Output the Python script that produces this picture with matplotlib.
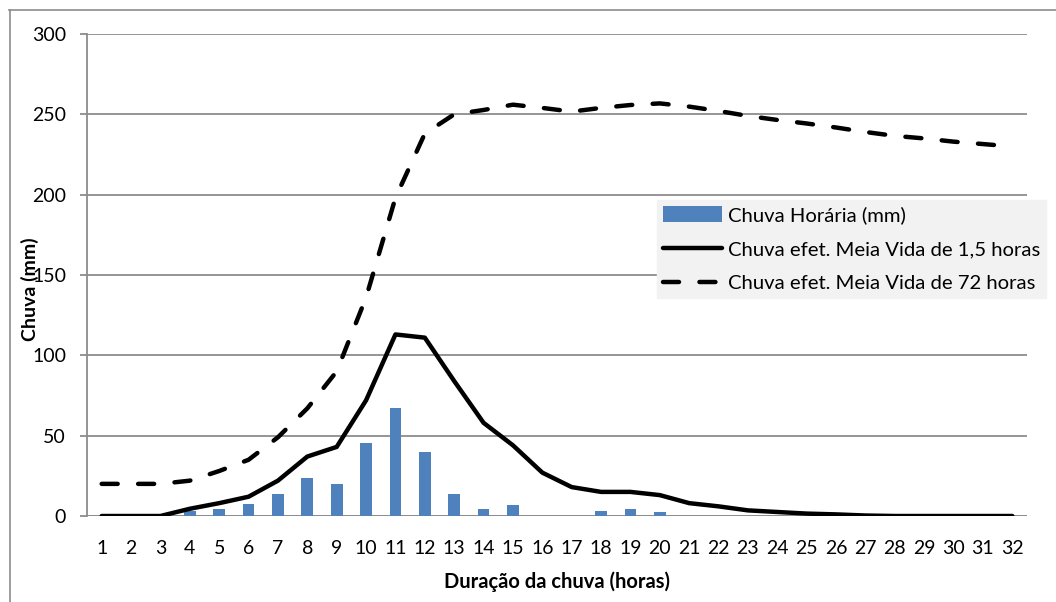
import matplotlib
matplotlib.use("Agg")
import matplotlib.pyplot as plt
from matplotlib.lines import Line2D

plt.rcParams['font.family'] = ['Lato', 'DejaVu Sans']

# Hourly rainfall and effective rainfall for two half-lives
horas = list(range(1, 33))
chuva_horaria = [0, 0, 0, 3, 4.5, 7.5, 14, 23.5, 20, 45.5, 67.5, 40, 14, 4.5, 6.7,
                 0, 0, 3.3, 4.5, 2.3, 0, 0, 0, 0, 0, 0, 0, 0, 0, 0, 0, 0]
meia_vida_1_5h = [0, 0, 0, 4.5, 8, 12, 22, 37, 43, 72, 113, 111, 84, 58, 44,
                  27, 18, 15, 15, 13, 8, 6, 3.5, 2.5, 1.5, 1, 0.3, 0, 0, 0, 0, 0]
meia_vida_72h = [20, 20, 20, 22, 28, 35, 49, 67, 90, 136, 198, 238, 250, 252.7, 256,
                 254, 251.7, 254, 255.8, 256.8, 254.8, 252.1, 249, 246.5, 244.3,
                 241.8, 239, 236.6, 235, 233, 231.5, 230]
y_ticks = [0, 50, 100, 150, 200, 250, 300]

W, H = 1056, 602
fig = plt.figure(figsize=(W / 100, H / 100), dpi=100)
fig.patch.set_facecolor('white')

# outer chart frame (left and top edges visible)
fig.add_artist(Line2D([9.5 / W, 9.5 / W], [0, 1 - 10 / H], transform=fig.transFigure,
                      color='#8c8c8c', lw=1.2))
fig.add_artist(Line2D([9 / W, 1], [1 - 10 / H, 1 - 10 / H], transform=fig.transFigure,
                      color='#8c8c8c', lw=1.2))

ax = fig.add_axes([87 / W, 1 - 516 / H, (1027 - 87) / W, (516 - 34) / H])
ax.set_facecolor('none')

bars = ax.bar(horas, chuva_horaria, width=0.4, color='#4F81BD', zorder=2,
              label='Chuva Horária (mm)')
l1, = ax.plot(horas, meia_vida_1_5h, color='black', lw=3.2, solid_joinstyle='round',
              solid_capstyle='round', zorder=3,
              label='Chuva efet. Meia Vida de 1,5 horas')
l2, = ax.plot(horas, meia_vida_72h, color='black', lw=3.2, dashes=(3.6, 4.6),
              dash_capstyle='round', dash_joinstyle='round', zorder=3,
              label='Chuva efet. Meia Vida de 72 horas')

ax.set_xlim(0.5, 32.5)
ax.set_ylim(0, 300)
ax.set_yticks(y_ticks)
ax.set_xticks(horas)
ax.set_xticklabels([str(h) for h in horas])
ax.yaxis.grid(True, color='#8c8c8c', lw=1.3, zorder=0)
ax.set_axisbelow(True)

for s in ['top', 'right', 'bottom']:
    ax.spines[s].set_visible(False)
ax.spines['left'].set_color('#8c8c8c')
ax.spines['left'].set_linewidth(1.3)

ax.tick_params(axis='y', length=5, width=1.3, color='#8c8c8c', pad=10,
               labelsize=14, labelcolor='black')
ax.tick_params(axis='x', length=0, pad=17, labelsize=14, labelcolor='black')

ax.axhline(0, color='#8c8c8c', lw=1.3, zorder=1)

ax.set_xlabel('Duração da chuva (horas)', fontsize=14.5, fontweight='bold')
ax.xaxis.set_label_coords(0.5, -0.115)
ax.set_ylabel('Chuva (mm)', fontsize=14, fontweight='bold')
ax.yaxis.set_label_coords(-0.051, 0.47)

leg = fig.legend(handles=[bars, l1, l2], loc='upper left',
                 bbox_to_anchor=(657 / W, 1 - 200 / H),
                 bbox_transform=fig.transFigure, fontsize=14.6, frameon=True,
                 fancybox=False, facecolor='#f2f2f2', edgecolor='#f2f2f2',
                 framealpha=1, borderaxespad=0, handlelength=2.9,
                 handleheight=0.8, handletextpad=0.3, labelspacing=0.8,
                 borderpad=0.3)

fig.savefig('out.png', dpi=100)
